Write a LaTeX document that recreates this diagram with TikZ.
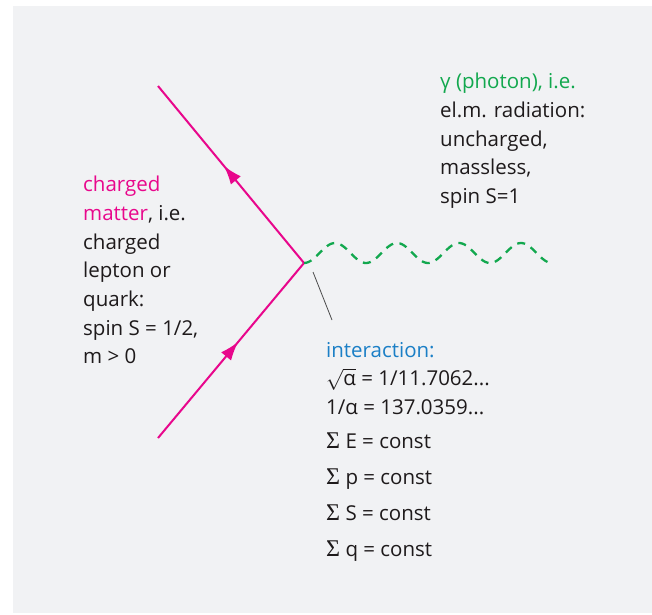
\documentclass[tikz,border=0pt]{standalone}
\usepackage{fontspec}
\setmainfont{Open Sans}
\newfontfamily\sumfont{Liberation Serif}
\usetikzlibrary{arrows.meta,decorations.markings}
\definecolor{bggray}{HTML}{F1F2F4}
\definecolor{pinkline}{HTML}{E8078C}
\definecolor{photongreen}{HTML}{12A84E}
\definecolor{ialblue}{HTML}{1B7FC6}
\definecolor{txtgray}{HTML}{1E1A1B}
\newcommand{\bigsum}{{\sumfont\fontsize{24}{24}\selectfont Σ}}
\begin{document}
\begin{tikzpicture}[x=1pt,y=-1pt,
  fermion/.style={pinkline,line width=2pt,postaction={decorate},
    decoration={markings,mark=at position 0.55 with {\arrow{Latex[length=19pt,width=13pt]}}}},
  photon/.style={photongreen,line width=2.3pt,dash pattern=on 8pt off 6.5pt},
  lbl/.style={anchor=north west,inner sep=0pt,align=left,text=txtgray,
    font=\fontsize{20.5}{28.7}\selectfont}]
  \useasboundingbox (0,0) rectangle (652,614);
  \fill[bggray] (13,6) rectangle (652,613);
  % vertex and external lines
  \coordinate (vtx) at (304,263);
  \coordinate (ein) at (158,438);
  \coordinate (eout) at (158,86);
  \draw[fermion] (ein) -- (vtx);
  \draw[fermion] (vtx) -- (eout);
  \draw[photon] (vtx) plot[domain=0:4,samples=120] ({304+62*\x},{253+10*cos(360*\x)});
  % labels
  \node[lbl] (matter) at (83,176) {\textcolor{pinkline}{charged}\\
    \textcolor{pinkline}{matter}, i.e.\\ charged\\ lepton or\\ quark:\\ spin S = 1/2,\\ m > 0};
  \node[lbl] (gamma) at (440,73) {\textcolor{photongreen}{γ (photon), i.e.}\\
    el.m. radiation:\\ uncharged,\\ massless,\\ spin S=1};
  \node[lbl] (inter) at (326,342) {\textcolor{ialblue}{interaction:}\\
    $\sqrt{\hbox{α}}$ = 1/11.7062...\\ 1/α = 137.0359...\\[5pt]
    \bigsum\ E = const\\[7.5pt] \bigsum\ p = const\\[7.5pt]
    \bigsum\ S = const\\[7.5pt] \bigsum\ q = const};
  % pointer to the vertex
  \coordinate (ptr) at (313,272);
  \coordinate (ptrend) at (332,320);
  \draw[black!70,line width=0.8pt] (ptr) -- (ptrend);
\end{tikzpicture}
\end{document}
